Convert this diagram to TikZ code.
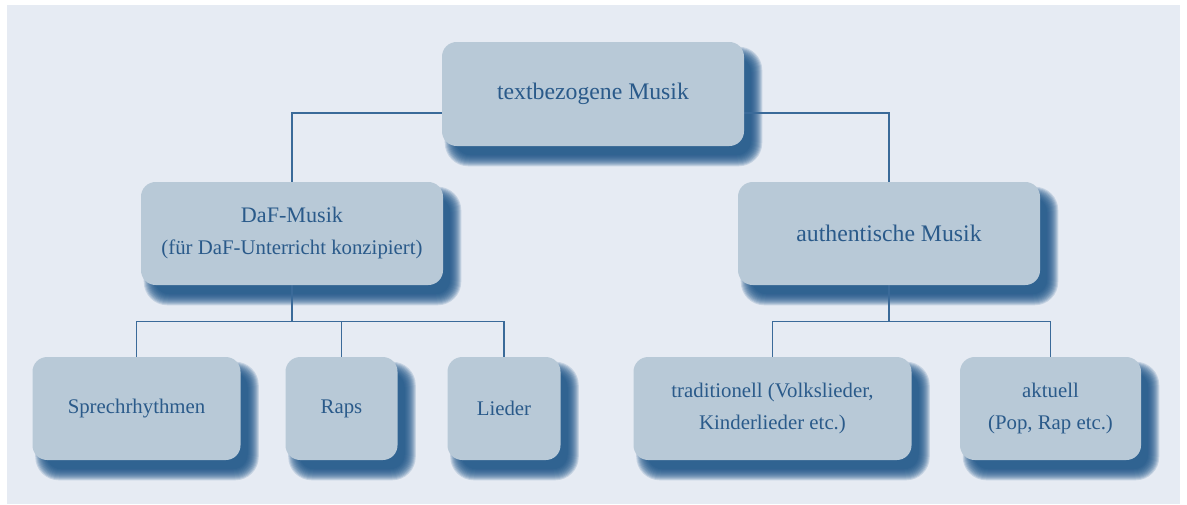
\documentclass[tikz,border=0pt]{standalone}
\usepackage{fontspec}
\setmainfont{Liberation Serif}
\usetikzlibrary{calc,backgrounds}
\definecolor{bgc}{HTML}{E6EBF3}
\definecolor{boxc}{HTML}{B8C9D7}
\definecolor{txtc}{HTML}{2A5A8A}
\definecolor{shc}{HTML}{1B5387}
\definecolor{linec}{HTML}{3A6A99}
\pgfdeclarelayer{bottom}
\pgfsetlayers{bottom,background,main}
\tikzset{
  box/.style={fill=boxc, text=txtc, rounded corners=11pt, align=center, inner sep=0pt,
    font=\fontsize{15.6}{24}\selectfont},
  big/.style={font=\fontsize{17.8}{24}\selectfont},
  conn/.style={draw=linec, line width=0.9pt},
}
\newcommand{\boxshadow}[1]{%
  \foreach \d in {0,1,...,11}{%
    \fill[shc, opacity=0.16, rounded corners={(11+0.6*\d)*1pt}]
      ($(#1.north west)+(14-\d,16-\d)$) rectangle ($(#1.south east)+(7+\d,9+\d)$);
  }%
}
\begin{document}
\begin{tikzpicture}[x=0.75pt,y=-0.75pt]
\useasboundingbox (0,0) rectangle (1187,504);
\begin{pgfonlayer}{bottom}
  \fill[bgc] (7,5) rectangle (1180,504);
\end{pgfonlayer}
\node[box,big,minimum width=226.5pt,minimum height=78pt] (top) at (593,94) {textbezogene Musik};
\node[box,minimum width=226.5pt,minimum height=77.25pt] (daf) at (292,233.5)
  {{\fontsize{16.6}{24}\selectfont DaF-Musik}\\(für DaF-Unterricht konzipiert)};
\node[box,big,minimum width=226.5pt,minimum height=77.25pt] (auth) at (889,233.5) {authentische Musik};
\node[box,minimum width=156pt,minimum height=77.25pt] (sprech) at (136.5,408.5) {Sprechrhythmen};
\node[box,minimum width=84pt,minimum height=77.25pt] (raps) at (341.5,408.5) {Raps};
\node[box,minimum width=84.75pt,minimum height=77.25pt] (lieder) at (504,408.5) {Lieder};
\node[box,minimum width=208.5pt,minimum height=77.25pt] (trad) at (772.5,408.5) {traditionell (Volkslieder,\\Kinderlieder etc.)};
\node[box,minimum width=135.75pt,minimum height=77.25pt] (akt) at (1050.5,408.5) {aktuell\\(Pop, Rap etc.)};
\begin{pgfonlayer}{background}
  \foreach \n in {top,daf,auth,sprech,raps,lieder,trad,akt}{\boxshadow{\n}}
  \coordinate (tj) at ($(top.center)+(0,19)$);
  \draw[conn] (daf.north) |- (tj) -| (auth.north);
  \draw[conn] (daf.south) -- ++(0,36) coordinate (dj);
  \draw[conn] (sprech.north) |- (dj) -| (lieder.north);
  \draw[conn] (raps.north) -- (raps.north |- dj);
  \draw[conn] (auth.south) -- ++(0,36) coordinate (aj);
  \draw[conn] (trad.north) |- (aj) -| (akt.north);
\end{pgfonlayer}
\end{tikzpicture}
\end{document}
